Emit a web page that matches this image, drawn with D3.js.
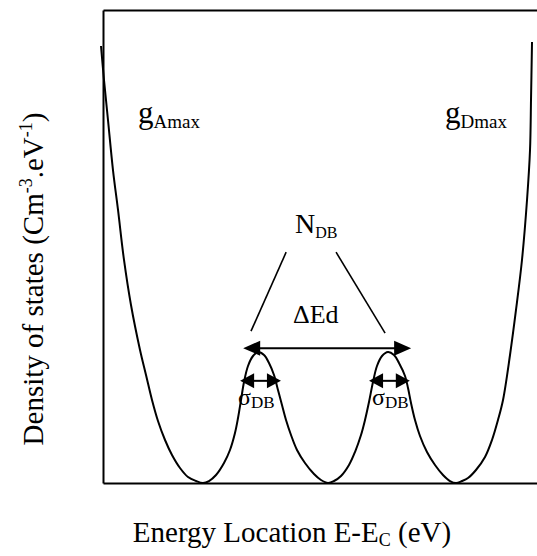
<!DOCTYPE html>
<html>
<head>
<meta charset="utf-8">
<script src="https://cdn.jsdelivr.net/npm/d3@7"></script>
<style>
  body { margin: 0; background: #fff; }
  svg { display: block; }
  text { font-family: "Liberation Serif", "Times New Roman", serif; fill: #000; }
</style>
</head>
<body>
<svg id="chart" width="537" height="556"></svg>
<script>
// Energy position across the gap (arbitrary units, 0 = left edge of the frame)
const energy = [
  -0.46, 0.23, 1.15, 2.30, 3.46, 4.84, 6.45, 8.53, 9.91, 11.29, 12.67, 14.29, 15.90, 17.74, 19.59, 21.43, 23.04,
  24.42, 26.04, 27.88, 29.26, 30.41, 31.11, 31.80, 32.49, 33.41, 34.56, 35.71, 37.10, 38.25, 39.40, 40.32, 41.24,
  42.17, 43.32, 44.70, 46.54, 48.62, 50.23, 51.84,
  53.23, 54.84, 56.68, 58.06, 59.45, 60.37, 61.29, 62.21, 63.13, 64.29, 65.67, 67.05, 68.20, 69.59, 70.28, 70.97,
  71.89, 73.04, 74.65, 76.50, 78.34, 79.95, 81.34,
  82.72, 84.10, 85.94, 88.02, 89.63, 91.01, 92.17, 93.78, 95.16, 96.54, 97.70, 98.39, 98.62, 98.85
];
// Density of states (arbitrary units, 0 = bottom of the frame)
const dos = [
  92.39, 85.20, 76.74, 66.17, 57.72, 47.15, 37.63, 28.12, 22.83, 17.55, 13.11, 9.09, 5.92, 3.17, 1.27, 0.42, 0.00,
  0.42, 1.69, 4.23, 6.98, 10.57, 13.74, 17.55, 21.35, 24.74, 26.85, 27.70, 27.06, 25.37, 22.83, 19.66, 16.49,
  13.32, 10.15, 6.98, 4.23, 1.90, 0.63, 0.00,
  0.42, 1.48, 3.81, 6.55, 10.15, 13.32, 17.12, 21.35, 24.74, 26.85, 27.70, 27.06, 25.37, 22.62, 20.08, 16.91,
  13.32, 9.94, 6.55, 3.81, 1.69, 0.42, 0.00,
  0.42, 1.06, 2.75, 5.50, 9.09, 13.32, 17.55, 27.06, 36.58, 47.15, 59.83, 70.40, 80.97, 93.23
];

// Axis titles
const yTitle = ["Density of states (Cm", "-3", ".eV", "-1", ")"];
const xTitle = ["Energy Location E-E", "C", " (eV)"];

const svg = d3.select("#chart");
const x = d3.scaleLinear().domain([0, 100]).range([103, 537]);
const y = d3.scaleLinear().domain([0, 100]).range([483, 10]);

// Frame: bottom, top and left edges with no ticks
function frame(axis, transform) {
  const g = svg.append("g").attr("transform", transform)
    .call(axis.tickValues([]).tickSizeOuter(0));
  g.select(".domain").attr("stroke", "#000").attr("stroke-width", 2);
}
frame(d3.axisBottom(x), "translate(0,483)");
frame(d3.axisTop(x), "translate(0,10)");
frame(d3.axisLeft(y), "translate(103,0)");

// Density-of-states curve
const pts = energy.map((e, i) => [e, dos[i]]);
svg.append("path")
  .datum(pts)
  .attr("fill", "none")
  .attr("stroke", "#000")
  .attr("stroke-width", 2)
  .attr("d", d3.line().x(d => x(d[0])).y(d => y(d[1])).curve(d3.curveCatmullRom.alpha(0.5)));

// Double-headed arrow helper
function arrow(e1, e2, level, headLen, halfH) {
  const x1 = x(e1), x2 = x(e2), yy = y(level);
  svg.append("line")
    .attr("x1", x1 + headLen - 1).attr("x2", x2 - headLen + 1)
    .attr("y1", yy).attr("y2", yy)
    .attr("stroke", "#000").attr("stroke-width", 2);
  svg.append("path")
    .attr("d", `M${x1},${yy}L${x1 + headLen},${yy - halfH}L${x1 + headLen},${yy + halfH}Z`)
    .attr("fill", "#000");
  svg.append("path")
    .attr("d", `M${x2},${yy}L${x2 - headLen},${yy - halfH}L${x2 - headLen},${yy + halfH}Z`)
    .attr("fill", "#000");
}

// Peak separation and peak widths
arrow(32.3, 71.0, 28.5, 17, 7.5);
arrow(31.6, 41.0, 21.6, 14, 7.5);
arrow(61.3, 70.7, 21.6, 14, 7.5);

// Lines from the N_DB label down to the two peaks
[[42.2, 48.8, 34.1, 32.1], [53.7, 48.8, 65.0, 31.7]].forEach(([a, b, c, d]) => {
  svg.append("line")
    .attr("x1", x(a)).attr("y1", y(b)).attr("x2", x(c)).attr("y2", y(d))
    .attr("stroke", "#000").attr("stroke-width", 1.6);
});

// Label with a lowered subscript
function subLabel(px, py, main, sub, mainSize, subSize, drop) {
  const t = svg.append("text").attr("x", px).attr("y", py);
  t.append("tspan").attr("font-size", mainSize).text(main);
  t.append("tspan").attr("font-size", subSize).attr("dy", drop).text(sub);
}
subLabel(138, 123, "g", "Amax", 31, 19, 5);
subLabel(445, 123, "g", "Dmax", 31, 19, 5);
subLabel(295, 233, "N", "DB", 28, 16, 5);
subLabel(238, 405, "σ", "DB", 24, 17, 3);
subLabel(372, 405, "σ", "DB", 24, 17, 3);

svg.append("text").attr("x", 293).attr("y", 323).attr("font-size", 26).text("ΔEd");

// Y axis title
const yt = svg.append("text")
  .attr("transform", "translate(43,279) rotate(-90)")
  .attr("text-anchor", "middle")
  .attr("font-size", 29);
yt.append("tspan").text(yTitle[0]);
yt.append("tspan").attr("font-size", 18).attr("dy", -11).text(yTitle[1]);
yt.append("tspan").attr("dy", 11).text(yTitle[2]);
yt.append("tspan").attr("font-size", 18).attr("dy", -11).text(yTitle[3]);
yt.append("tspan").attr("dy", 11).text(yTitle[4]);

// X axis title
const xt = svg.append("text")
  .attr("x", 292).attr("y", 542)
  .attr("text-anchor", "middle")
  .attr("font-size", 29);
xt.append("tspan").text(xTitle[0]);
xt.append("tspan").attr("font-size", 18).attr("dy", 4).text(xTitle[1]);
xt.append("tspan").attr("dy", -4).text(xTitle[2]);
</script>
</body>
</html>
